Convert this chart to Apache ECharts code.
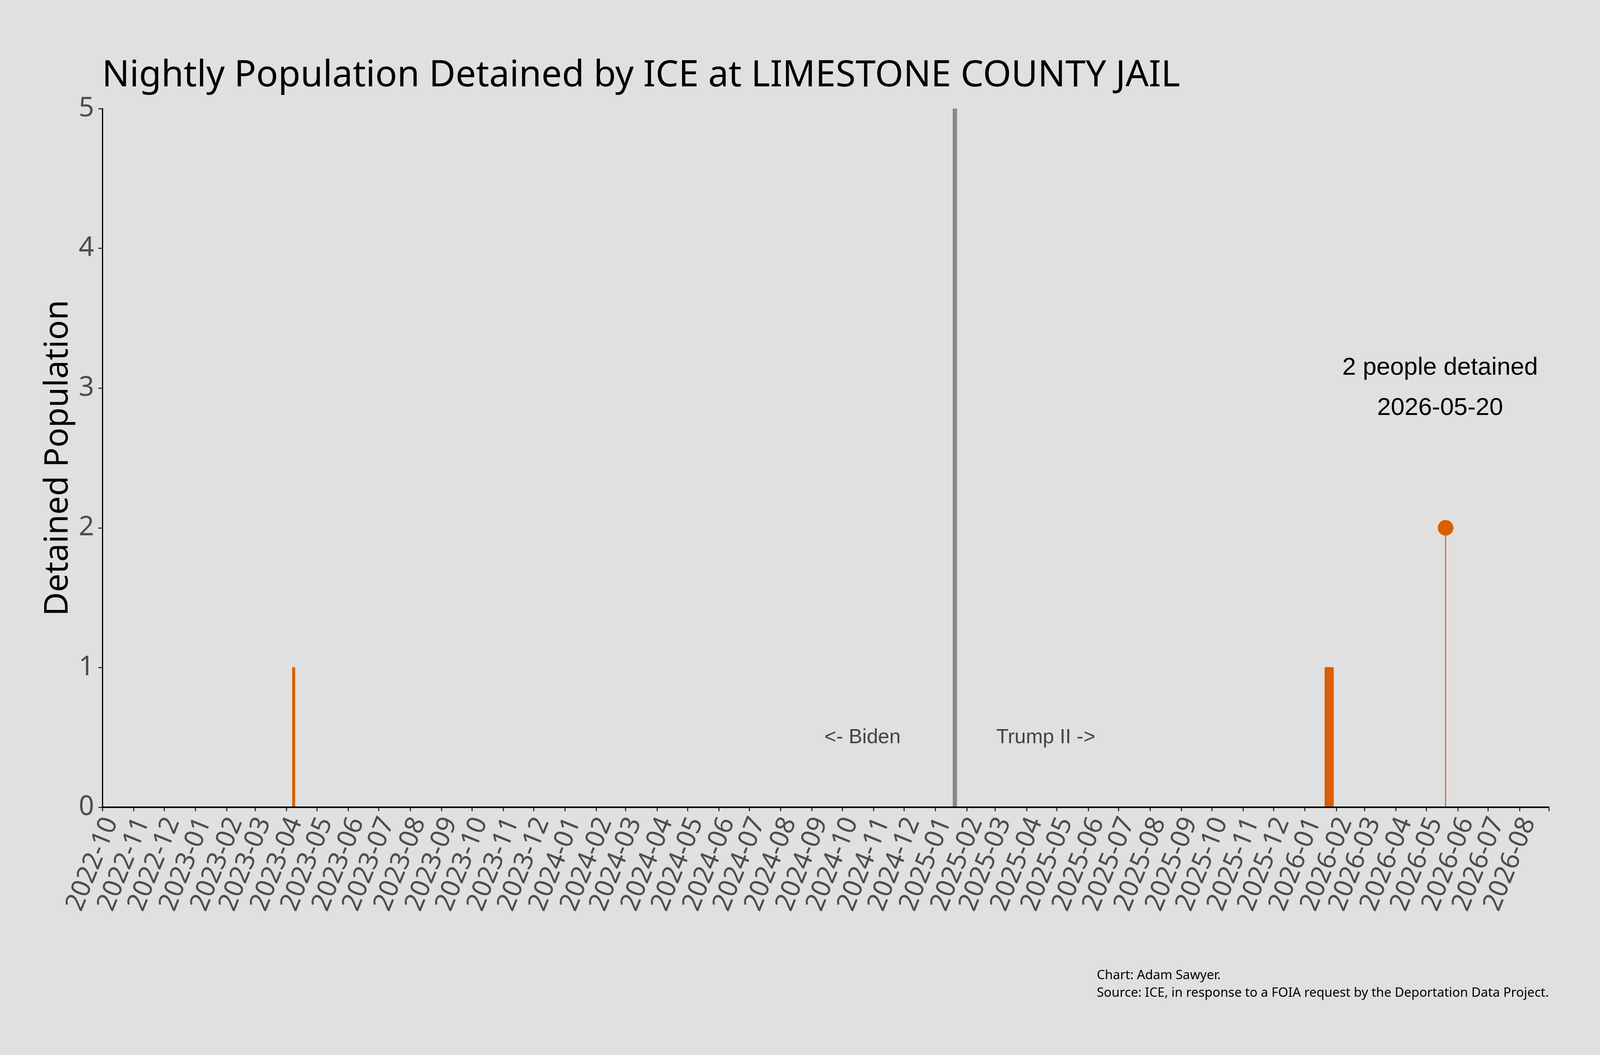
<!DOCTYPE html>
<html>
<head>
<meta charset="utf-8">
<title>Nightly Population Detained by ICE at LIMESTONE COUNTY JAIL</title>
<script src="https://cdn.jsdelivr.net/npm/echarts@6/dist/echarts.min.js"></script>
<style>
  html, body { margin: 0; padding: 0; background: #e0e0e0; overflow: hidden; }
  #chart { width: 100vw; height: 100vh; }
</style>
</head>
<body>
<div id="chart"></div>
<script>
// nightly counts, stored as the dates on which the count changes
var axisStart = '2022-10-01';
var axisEnd = '2026-08-30';
var changeDates = ['2022-10-01', '2023-04-07', '2023-04-09', '2026-01-21', '2026-01-29', '2026-05-20'];
var changeValues = [0, 1, 0, 1, 0, 2];

var inaugurationDate = '2025-01-20';
var eraDates = ['2024-10-21', '2025-04-20'];
var eraLabels = ['<- Biden', 'Trump II ->'];
var eraLevel = 0.5;

var yMin = 0;
var yMax = 5;

var orange = '#d95f02';
var DAY = 24 * 3600 * 1000;

var dom = document.getElementById('chart');
var chart = echarts.init(dom);

// layout was measured on a 4800 x 2700 canvas, scale it to whatever window we get
var W = chart.getWidth(), H = chart.getHeight();
var sx = W / 4800, sy = H / 2700;
var k = Math.min(sx * 1.05, sy);          // horizontal text
var kv = Math.min(sx * 1.15, sy);         // rotated / mostly vertical text
function X(v) { return Math.round(v * sx); }
function Y(v) { return Math.round(v * sy); }

var lastDate = changeDates[changeDates.length - 1];
var lastValue = changeValues[changeValues.length - 1];

var stepData = changeDates.map(function (d, i) { return [d, changeValues[i]]; });
var eraData = eraDates.map(function (d, i) { return { value: [d, eraLevel], label: { formatter: eraLabels[i] } }; });

function monthLabel(v) {
    return echarts.time.format(v, '{yyyy}-{MM}', false);
}

var timeAxisBase = {
    type: 'time',
    min: axisStart,
    max: axisEnd,
    splitNumber: 46,
    minInterval: 28 * DAY,
    maxInterval: 31 * DAY,
    splitLine: { show: false }
};

var yNameFont = Math.round(86 * kv);

var option = {
    backgroundColor: '#e0e0e0',
    animation: false,
    title: {
        text: 'Nightly Population Detained by ICE at LIMESTONE COUNTY JAIL',
        left: X(300),
        top: Y(190) - Math.round(104 * k / 2),
        textStyle: {
            fontFamily: 'Noto Sans',
            fontWeight: 'normal',
            fontSize: Math.round(104 * k),
            color: '#000'
        }
    },
    graphic: [{
        type: 'text',
        right: X(153),
        top: Y(2474),
        style: {
            text: 'Chart: Adam Sawyer.\nSource: ICE, in response to a FOIA request by the Deportation Data Project.',
            align: 'right',
            font: Math.round(37 * k) + 'px "Noto Sans"',
            lineHeight: Y(45),
            fill: '#000'
        }
    }],
    grid: [
        { left: X(307), right: X(153), top: Y(278), bottom: Y(634) },
        // second grid, nudged right, only carries the rotated month labels
        { left: X(333), right: X(127), top: Y(278), bottom: Y(634) }
    ],
    xAxis: [
        Object.assign({}, timeAxisBase, {
            gridIndex: 0,
            z: 10,
            axisLine: { show: true, lineStyle: { color: '#000', width: 4 } },
            axisTick: { show: true, length: Y(10), lineStyle: { color: '#333', width: 3 } },
            axisLabel: { show: false }
        }),
        Object.assign({}, timeAxisBase, {
            gridIndex: 1,
            axisLine: { show: false },
            axisTick: { show: false },
            axisLabel: {
                show: true,
                interval: 0,
                rotate: 68,
                margin: Y(29),
                fontFamily: 'Noto Sans',
                fontSize: Math.round(68 * kv),
                color: '#4d4d4d',
                formatter: monthLabel
            }
        })
    ],
    yAxis: [{
        gridIndex: 0,
        type: 'value',
        min: yMin,
        max: yMax,
        interval: 1,
        name: 'Detained Population',
        nameLocation: 'middle',
        nameGap: X(112) - Math.round(yNameFont / 2),
        nameTextStyle: { fontFamily: 'Noto Sans', fontSize: yNameFont, color: '#000' },
        axisLine: { show: true, lineStyle: { color: '#000', width: 3 } },
        axisTick: { show: true, length: X(12), lineStyle: { color: '#333', width: 3 } },
        axisLabel: { margin: X(25), fontFamily: 'Noto Sans', fontSize: Math.round(70 * kv), color: '#4d4d4d' },
        splitLine: { show: false }
    }, {
        gridIndex: 1,
        type: 'value',
        min: yMin,
        max: yMax,
        show: false,
        splitLine: { show: false }
    }],
    series: [
        {
            name: 'Detained',
            type: 'line',
            xAxisIndex: 0,
            yAxisIndex: 0,
            step: 'end',
            data: stepData,
            showSymbol: false,
            lineStyle: { color: orange, width: 2.5 },
            areaStyle: { color: orange, opacity: 1 },
            markLine: {
                silent: true,
                symbol: 'none',
                label: { show: false },
                lineStyle: { color: '#888888', width: Math.round(13 * sx), type: 'solid', opacity: 1 },
                data: [{ xAxis: inaugurationDate }]
            }
        },
        {
            name: 'Latest',
            type: 'scatter',
            xAxisIndex: 0,
            yAxisIndex: 0,
            data: [[lastDate, lastValue]],
            symbolSize: Math.round(41 * kv),
            itemStyle: { color: orange, opacity: 1 },
            z: 5
        },
        {
            name: 'Latest note',
            type: 'scatter',
            xAxisIndex: 0,
            yAxisIndex: 0,
            data: [[lastDate, lastValue + 1]],
            symbolSize: 0,
            itemStyle: { opacity: 1 },
            label: {
                show: true,
                position: 'inside',
                offset: [-X(16), 0],
                formatter: lastValue + ' people detained\n' + lastDate,
                fontFamily: 'Liberation Sans',
                fontSize: Math.round(70 * k),
                lineHeight: Y(103),
                align: 'center',
                color: '#000'
            }
        },
        {
            name: 'Eras',
            type: 'scatter',
            xAxisIndex: 0,
            yAxisIndex: 0,
            data: eraData,
            symbolSize: 0,
            itemStyle: { opacity: 1 },
            label: {
                show: true,
                position: 'inside',
                fontFamily: 'Liberation Sans',
                fontSize: Math.round(58 * k),
                color: '#444'
            }
        }
    ]
};

chart.setOption(option);
window.addEventListener('resize', function () { chart.resize(); });
</script>
</body>
</html>
